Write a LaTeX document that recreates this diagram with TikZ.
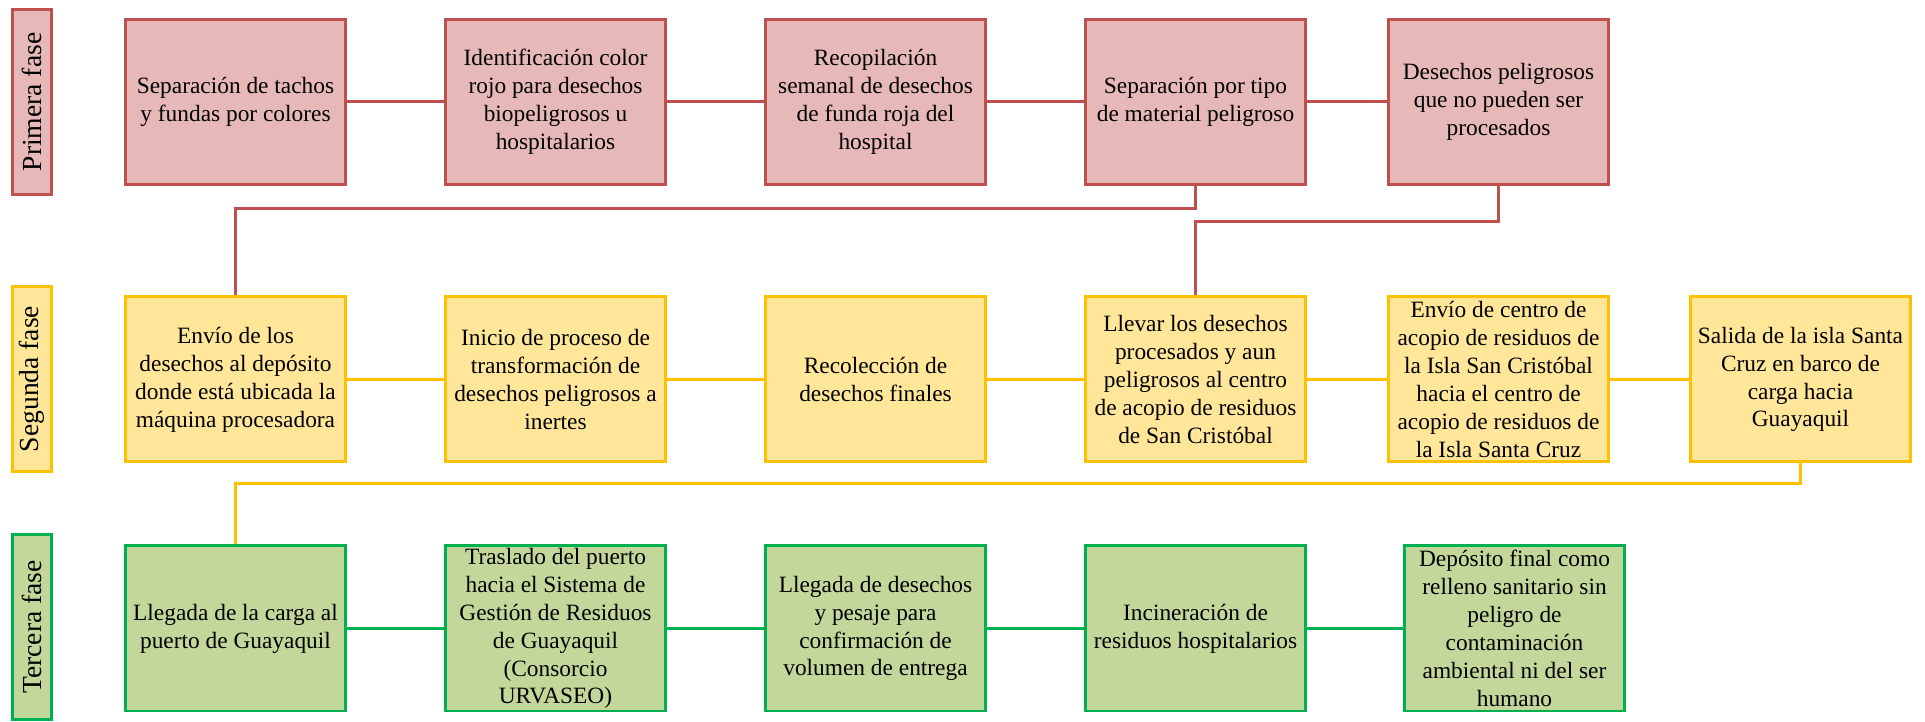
\documentclass[tikz,border=0pt]{standalone}
\usepackage{fontspec}
\setmainfont{Liberation Serif}
\usepackage{tikz}
\usetikzlibrary{positioning,calc}
\definecolor{rojoBorde}{HTML}{C0504D}
\definecolor{rojoFondo}{HTML}{E6B8B7}
\definecolor{amarilloBorde}{HTML}{FFC000}
\definecolor{amarilloFondo}{HTML}{FFE699}
\definecolor{verdeBorde}{HTML}{00B050}
\definecolor{verdeFondo}{HTML}{C4D79B}

\begin{document}
\begin{tikzpicture}[
		stage/.style={draw, line width=1.7pt, minimum width=4.40cm, minimum height=3.30cm, inner sep=1pt, align=center, font=\fontsize{13.3}{15.9}\selectfont},
		phase/.style={draw, line width=1.7pt, rotate=90, minimum width=3.70cm, minimum height=0.78cm, inner sep=0pt, font=\fontsize{15.7}{18}\selectfont},
		link/.style={line width=1.7pt}
		]
		\useasboundingbox (0,0) rectangle (38.5,14.44);
		
		% ===== etiquetas de fase =====
		\node[phase, draw=rojoBorde, fill=rojoFondo] (F1) at (0.64,12.40) {Primera fase};
		\node[phase, draw=amarilloBorde, fill=amarilloFondo] (F2) at (0.64,6.86) {Segunda fase};
		\node[phase, draw=verdeBorde, fill=verdeFondo] (F3) at (0.64,1.90) {Tercera fase};
		
		% ===== primera fase =====
		\foreach \x/\t [count=\i from 1] in {
			4.71/{Separación de tachos\\y fundas por colores},
			11.11/{Identificación color\\rojo para desechos\\biopeligrosos u\\hospitalarios},
			17.51/{Recopilación\\semanal de desechos\\de funda roja del\\hospital},
			23.91/{Separación por tipo\\de material peligroso},
			29.97/{Desechos peligrosos\\que no pueden ser\\procesados}}{
			\node[stage, draw=rojoBorde, fill=rojoFondo] (P\i) at (\x,12.40) {\t};
		}
		
		% ===== segunda fase =====
		\foreach \x/\t [count=\i from 1] in {
			4.71/{Envío de los\\desechos al depósito\\donde está ubicada la\\máquina procesadora},
			11.11/{Inicio de proceso de\\transformación de\\desechos peligrosos a\\inertes},
			17.51/{Recolección de\\desechos finales},
			23.91/{Llevar los desechos\\procesados y aun\\peligrosos al centro\\de acopio de residuos\\de San Cristóbal},
			29.97/{Envío de centro de\\acopio de residuos de\\la Isla San Cristóbal\\hacia el centro de\\acopio de residuos de\\la Isla Santa Cruz},
			36.01/{Salida de la isla Santa\\Cruz en barco de\\carga hacia\\Guayaquil}}{
			\node[stage, draw=amarilloBorde, fill=amarilloFondo] (S\i) at (\x,6.85) {\t};
		}
		
		% ===== tercera fase =====
		\foreach \x/\t [count=\i from 1] in {
			4.71/{Llegada de la carga al\\puerto de Guayaquil},
			11.11/{Traslado del puerto\\hacia el Sistema de\\Gestión de Residuos\\de Guayaquil\\(Consorcio\\URVASEO)},
			17.51/{Llegada de desechos\\y pesaje para\\confirmación de\\volumen de entrega},
			23.91/{Incineración de\\residuos hospitalarios},
			30.29/{Depósito final como\\relleno sanitario sin\\peligro de\\contaminación\\ambiental ni del ser\\humano}}{
			\node[stage, draw=verdeBorde, fill=verdeFondo] (T\i) at (\x,1.87) {\t};
		}
		
		% ===== conectores horizontales =====
		\foreach \i/\j in {1/2,2/3,3/4,4/5}{
			\draw[link, rojoBorde] (P\i) -- (P\j);
			\draw[link, verdeBorde] (T\i) -- (T\j);
		}
		\foreach \i/\j in {1/2,2/3,3/4,4/5,5/6}{
			\draw[link, amarilloBorde] (S\i) -- (S\j);
		}
		
		% ===== conectores entre fases =====
		\draw[link, rojoBorde] (P4.south) -- ++(0,-0.45) -| (S1.north);
		\draw[link, rojoBorde] (P5.south) -- ++(0,-0.71) -| (S4.north);
		\draw[link, amarilloBorde] (S6.south) -- ++(0,-0.40) -| (T1.north);
		
	\end{tikzpicture}
\end{document}
